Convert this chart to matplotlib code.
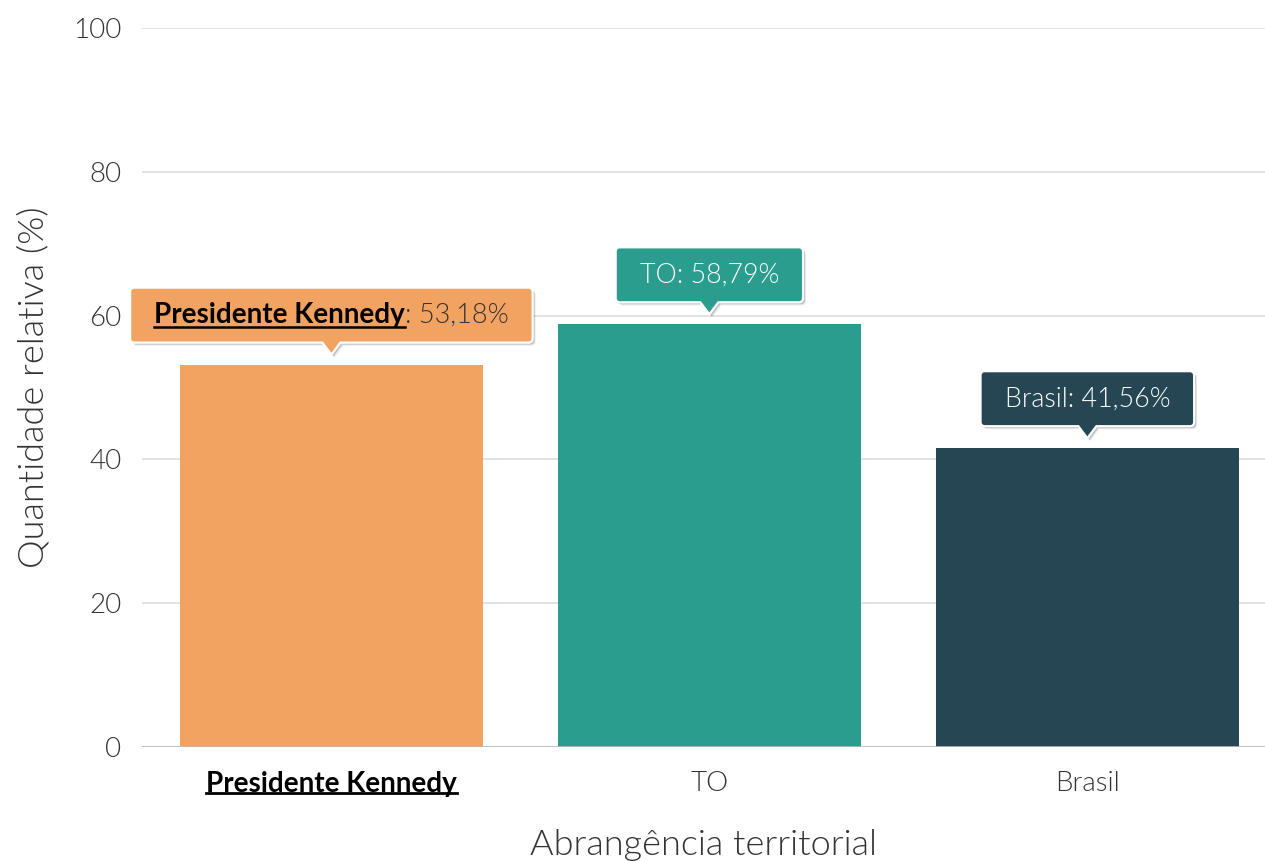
import numpy as np
import matplotlib.pyplot as plt
from matplotlib.path import Path
from matplotlib.patches import PathPatch
from matplotlib.transforms import IdentityTransform, Affine2D

categories = ['Presidente Kennedy', 'TO', 'Brasil']
values = [53.18, 58.79, 41.56]
value_labels = ['53,18%', '58,79%', '41,56%']
colors = ['#F2A261', '#2A9D8F', '#264653']
yticks = [0, 20, 40, 60, 80, 100]

plt.rcParams['font.family'] = ['Lato', 'DejaVu Sans']
plt.rcParams['font.weight'] = 300
plt.rcParams['axes.labelweight'] = 300

W, H = 1265, 861
fig = plt.figure(figsize=(W / 100, H / 100), dpi=100)
ax = fig.add_axes([142 / W, 114 / H, 1123 / W, 719 / H])

x = np.arange(len(categories))
ax.bar(x, values, width=0.8, color=colors, zorder=2)
ax.set_xlim(-0.501, 2.47)
ax.set_ylim(0, 100)
ax.set_yticks(yticks)
ax.set_xticks(x)
ax.set_xticklabels(categories)
ax.grid(axis='y', color='#dddddd', lw=1.2, zorder=0)
ax.axhline(0, color='#bbbbbb', lw=1.2, zorder=3)
for s in ax.spines.values():
    s.set_visible(False)
ax.tick_params(axis='y', length=0, labelsize=20, labelcolor='#333333', pad=15)
ax.tick_params(axis='x', length=0, labelsize=20, labelcolor='#333333', pad=17)
ax.set_ylabel('Quantidade relativa (%)', fontsize=26, color='#333333', labelpad=17)
ax.set_xlabel('Abrangência territorial', fontsize=26, color='#333333', labelpad=23)

# highlighted category label: bold, black, underlined
lab0 = ax.get_xticklabels()[0]
lab0.set_fontweight('bold')
lab0.set_color('black')

renderer = fig.canvas.get_renderer()
ident = IdentityTransform()

bb = lab0.get_window_extent(renderer)
fig.add_artist(plt.Line2D([bb.x0, bb.x1], [bb.y0 + 4, bb.y0 + 4], color='black', lw=2,
                          transform=ident))


def tip_path(xc, tip_y, w, h, r=4, ph=12, pw=9):
    x0, x1 = xc - w / 2, xc + w / 2
    y0 = tip_y + ph
    y1 = y0 + h
    pts = [(x0 + r, y0), (xc - pw, y0), (xc, tip_y), (xc + pw, y0), (x1 - r, y0)]

    def arc(cx, cy, a0, a1):
        a = np.linspace(np.radians(a0), np.radians(a1), 8)
        return list(zip(cx + r * np.cos(a), cy + r * np.sin(a)))

    pts += arc(x1 - r, y0 + r, -90, 0)
    pts += arc(x1 - r, y1 - r, 0, 90)
    pts += arc(x0 + r, y1 - r, 90, 180)
    pts += arc(x0 + r, y0 + r, 180, 270)
    pts.append(pts[0])
    codes = [Path.MOVETO] + [Path.LINETO] * (len(pts) - 2) + [Path.CLOSEPOLY]
    return Path(pts, codes), (y0 + y1) / 2


for i, (cat, val, vl, col) in enumerate(zip(categories, values, value_labels, colors)):
    xc, ytop = ax.transData.transform((i, val))
    if i == 0:
        t1 = fig.text(0, 0, cat, fontsize=20, fontweight='bold', color='black',
                      transform=ident, va='baseline', zorder=11)
        t2 = fig.text(0, 0, ': ' + vl, fontsize=19.5, color='#333333',
                      transform=ident, va='baseline', zorder=11)
        parts = [t1, t2]
    else:
        parts = [fig.text(0, 0, cat + ': ' + vl, fontsize=19.3, color='white',
                          transform=ident, va='baseline', zorder=11)]
    widths = [p.get_window_extent(renderer).width for p in parts]
    tw = sum(widths)
    path, yc = tip_path(xc, ytop + 10, tw + 48, 55)
    for off, a in [((2, -2), 0.18), ((3, -3), 0.08)]:
        fig.add_artist(PathPatch(path, transform=Affine2D().translate(*off), facecolor='black',
                                 edgecolor='none', alpha=a, zorder=9))
    fig.add_artist(PathPatch(path, transform=ident, facecolor=col, edgecolor='white',
                             lw=1.6, zorder=10))
    xs = xc - tw / 2
    base = yc - 7.5
    for p, w in zip(parts, widths):
        p.set_position((xs, base))
        xs += w
    if i == 0:
        b1 = t1.get_window_extent(renderer)
        fig.add_artist(plt.Line2D([b1.x0, b1.x1], [base - 4, base - 4], color='black', lw=1.8,
                                  transform=ident, zorder=12))

fig.savefig('out.png', dpi=100)
